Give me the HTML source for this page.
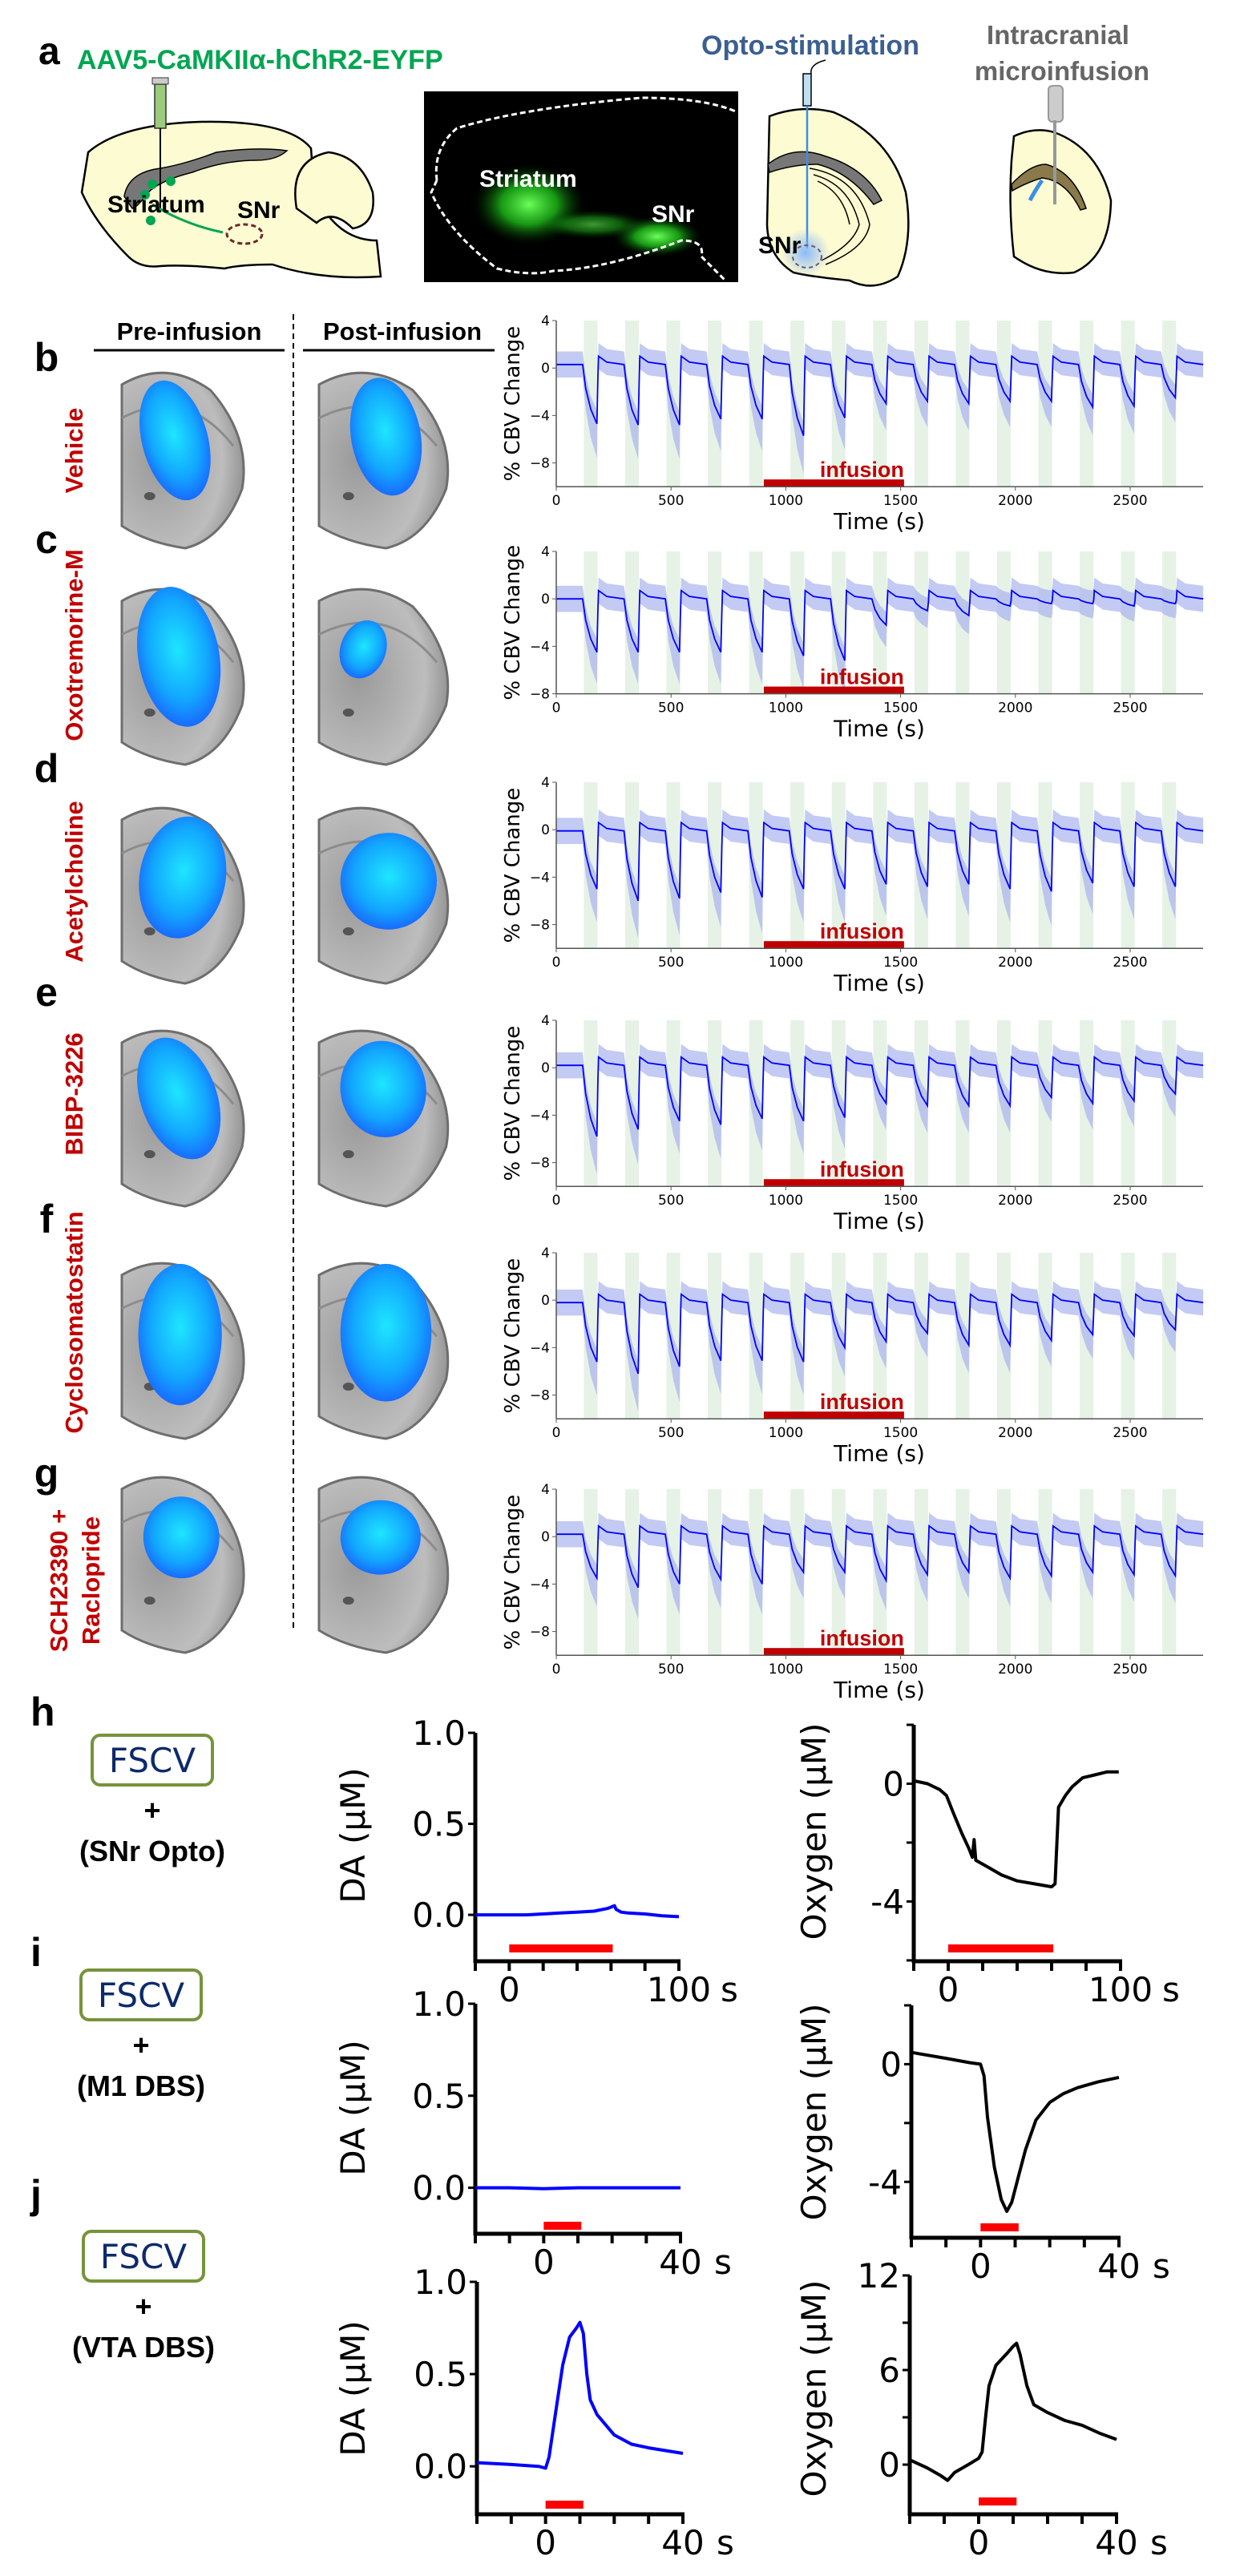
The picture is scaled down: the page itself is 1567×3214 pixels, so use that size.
<!DOCTYPE html>
<html><head><meta charset="utf-8">
<style>
html,body{margin:0;padding:0;background:#fff;}
svg{display:block;}
text{font-family:"DejaVu Sans","Liberation Sans",sans-serif;}
.b{font-family:"Liberation Sans","DejaVu Sans",sans-serif;font-weight:bold;}
</style></head>
<body>
<svg id="fig" xmlns="http://www.w3.org/2000/svg" width="1567" height="3214" viewBox="0 0 1567 3214">
<defs>
  <radialGradient id="glow" cx="50%" cy="50%" r="50%">
    <stop offset="0" stop-color="#6cff5a" stop-opacity="1"/>
    <stop offset="0.5" stop-color="#1fbf1a" stop-opacity="0.8"/>
    <stop offset="1" stop-color="#003300" stop-opacity="0"/>
  </radialGradient>
  <radialGradient id="bluegrad" cx="50%" cy="45%" r="60%">
    <stop offset="0" stop-color="#1ee6ff"/>
    <stop offset="0.6" stop-color="#12a6ff"/>
    <stop offset="1" stop-color="#1a5cff"/>
  </radialGradient>
  <radialGradient id="graybrain" cx="30%" cy="50%" r="75%">
    <stop offset="0" stop-color="#9a9a9a"/>
    <stop offset="0.7" stop-color="#bdbdbd"/>
    <stop offset="1" stop-color="#8a8a8a"/>
  </radialGradient>
  <radialGradient id="optoglow" cx="50%" cy="50%" r="50%">
    <stop offset="0" stop-color="#7fb2ff" stop-opacity="0.9"/>
    <stop offset="1" stop-color="#7fb2ff" stop-opacity="0"/>
  </radialGradient>
</defs>

<!-- Panel a -->
<g>
  <text x="48" y="80" class="b" font-size="48" fill="#000">a</text>
  <text x="96" y="86" class="b" font-size="34" fill="#00a651">AAV5-CaMKIIα-hChR2-EYFP</text>
  <!-- sagittal brain -->
  <g>
    <path d="M110,190 Q150,155 250,152 Q360,150 388,185 L392,240 Q420,300 470,300 L475,345 Q400,350 340,330 Q300,330 280,335 Q230,330 200,332 Q175,335 160,320 Q120,280 102,240 Z" fill="#fdfbd2" stroke="#000" stroke-width="2.5"/>
    <path d="M370,260 Q360,200 410,190 Q450,195 465,240 Q470,280 440,285 Q415,260 395,278 Z" fill="#fdfbd2" stroke="#000" stroke-width="2.5"/>
    <path d="M155,245 Q160,215 200,210 Q230,205 270,190 Q320,183 358,188 Q345,200 320,200 Q280,200 240,215 Q200,225 185,240 Q170,260 165,260 Z" fill="#777" stroke="#000" stroke-width="1.5"/>
    <rect x="193" y="105" width="14" height="55" fill="#9ccb7e" stroke="#333" stroke-width="1.5"/>
    <rect x="190" y="97" width="20" height="8" fill="#ccc" stroke="#333"/>
    <line x1="200" y1="160" x2="200" y2="265" stroke="#000" stroke-width="2"/>
    <circle cx="190" cy="230" r="6" fill="#00a651"/><circle cx="213" cy="226" r="6" fill="#00a651"/>
    <circle cx="181" cy="243" r="6" fill="#00a651"/><circle cx="188" cy="275" r="6" fill="#00a651"/>
    <path d="M190,255 Q230,280 278,290" fill="none" stroke="#00a651" stroke-width="3"/>
    <ellipse cx="305" cy="292" rx="22" ry="12" fill="none" stroke="#6b2a2a" stroke-width="3" stroke-dasharray="6,4"/>
    <text x="134" y="265" class="b" font-size="30" fill="#000">Striatum</text>
    <text x="296" y="272" class="b" font-size="30" fill="#000">SNr</text>
  </g>
  <!-- fluorescence image -->
  <g>
    <rect x="529" y="114" width="392" height="238" fill="#000"/>
    <ellipse cx="660" cy="255" rx="70" ry="50" fill="url(#glow)"/>
    <ellipse cx="820" cy="295" rx="55" ry="25" fill="url(#glow)"/>
    <ellipse cx="740" cy="280" rx="70" ry="18" fill="url(#glow)" opacity="0.6"/>
    <path d="M545,225 Q540,185 570,160 Q650,135 800,122 Q880,122 920,140 M545,225 L538,240 Q560,290 620,335 Q660,345 690,338 Q760,335 850,300 Q880,300 875,320 L905,350" fill="none" stroke="#fff" stroke-width="3" stroke-dasharray="7,4"/>
    <text x="598" y="233" class="b" font-size="30" fill="#fff">Striatum</text>
    <text x="813" y="277" class="b" font-size="30" fill="#fff">SNr</text>
  </g>
  <!-- opto coronal -->
  <g>
    <text x="875" y="68" class="b" font-size="34" fill="#3c5f91">Opto-stimulation</text>
    <path d="M1030,75 Q1010,80 1012,92" fill="none" stroke="#000" stroke-width="1.5"/>
    <path d="M960,145 Q1000,130 1040,140 Q1110,170 1130,240 Q1140,300 1120,345 Q1090,365 1060,350 Q1010,345 990,340 Q958,320 957,280 Z" fill="#fdfbd2" stroke="#000" stroke-width="2.5"/>
    <path d="M958,205 Q990,180 1030,195 Q1080,210 1100,250 L1090,255 Q1060,215 1020,205 Q990,205 960,215 Z" fill="#777" stroke="#000" stroke-width="1.5"/>
    <path d="M1010,210 Q1070,220 1085,280 Q1080,310 1030,330 M1015,218 Q1060,230 1072,280 Q1065,305 1025,325 M1020,226 Q1052,240 1060,280" fill="none" stroke="#000" stroke-width="1.5"/>
    <rect x="1002" y="92" width="10" height="40" fill="#bfe0f0" stroke="#000" stroke-width="1.5"/>
    <line x1="1007" y1="132" x2="1007" y2="310" stroke="#3a8ee6" stroke-width="2.5"/>
    <circle cx="1005" cy="315" r="30" fill="url(#optoglow)"/>
    <ellipse cx="1007" cy="320" rx="18" ry="14" fill="none" stroke="#6b5a6a" stroke-width="2" stroke-dasharray="5,4"/>
    <text x="946" y="316" class="b" font-size="30" fill="#000">SNr</text>
  </g>
  <!-- microinfusion coronal -->
  <g>
    <text x="1320" y="55" class="b" font-size="33" fill="#666" text-anchor="middle">Intracranial</text>
    <text x="1325" y="100" class="b" font-size="33" fill="#666" text-anchor="middle">microinfusion</text>
    <path d="M1265,170 Q1290,158 1315,165 Q1370,185 1386,250 Q1385,320 1340,340 Q1300,345 1265,320 Q1258,260 1262,200 Z" fill="#fdfbd2" stroke="#000" stroke-width="2.5"/>
    <path d="M1262,230 Q1285,205 1305,205 Q1340,215 1355,260 L1348,262 Q1330,225 1300,222 Q1280,228 1263,238 Z" fill="#8a7a4a" stroke="#000" stroke-width="1.5"/>
    <path d="M1300,225 Q1290,240 1285,250" stroke="#3a8ee6" stroke-width="5" fill="none"/>
    <rect x="1308" y="107" width="18" height="45" rx="5" fill="#ccc" stroke="#999" stroke-width="2"/>
    <line x1="1316" y1="150" x2="1316" y2="255" stroke="#999" stroke-width="4"/>
  </g>
</g>

<!-- Column headers -->
<g>
  <text x="236" y="424" class="b" font-size="31" text-anchor="middle">Pre-infusion</text>
  <line x1="117" y1="437" x2="355" y2="437" stroke="#000" stroke-width="3"/>
  <text x="502" y="424" class="b" font-size="31" text-anchor="middle">Post-infusion</text>
  <line x1="378" y1="437" x2="617" y2="437" stroke="#000" stroke-width="3"/>
  <line x1="366" y1="392" x2="366" y2="2035" stroke="#000" stroke-width="2" stroke-dasharray="7,5"/>
</g>

<g id="rows"></g>
<g id="charts"></g>
<g id="fscv"></g>
</svg>

<script>
const NS = "http://www.w3.org/2000/svg";
const svg = document.getElementById('fig');
function mk(tag, attrs, parent, txt){
  const e = document.createElementNS(NS, tag);
  for (const k in attrs) e.setAttribute(k, attrs[k]);
  if (txt !== undefined) e.textContent = txt;
  (parent||svg).appendChild(e);
  return e;
}

// ---------- CBV data ----------
const stimStarts = [120,300,480,660,840,1020,1200,1380,1560,1740,1920,2100,2280,2460,2640];
const stimDuration = 60;
const infusionWindow = [904, 1515];
const xTicks = [0,500,1000,1500,2000,2500];
const yTicksCBV = [4,0,-4,-8];
const panelNames = ["b","c","d","e","f","g"];
const drugNames = ["Vehicle","Oxotremorine-M","Acetylcholine","BIBP-3226","Cyclosomatostatin","SCH23390 + Raclopride"];
const ampB = [-4.7,-4.8,-4.8,-4.3,-4.3,-5.7,-4.2,-3.0,-2.8,-3.0,-2.8,-2.8,-3.3,-3.2,-2.5];
const ampC = [-4.5,-4.5,-4.5,-4.5,-4.5,-4.8,-5.2,-2.2,-1.0,-1.4,-0.6,-0.4,-0.4,-0.6,-0.4];
const ampD = [-5.0,-6.0,-5.8,-5.3,-5.7,-5.0,-5.0,-4.6,-4.8,-4.6,-5.0,-5.2,-4.5,-4.8,-4.8];
const ampE = [-5.8,-5.2,-4.5,-4.8,-4.3,-4.5,-4.2,-3.0,-3.2,-3.2,-3.2,-2.5,-3.0,-2.8,-2.2];
const ampF = [-5.2,-6.2,-5.6,-5.1,-5.1,-5.2,-4.0,-3.5,-2.8,-3.8,-3.8,-3.4,-2.9,-3.0,-2.5];
const ampG = [-3.5,-4.3,-4.0,-3.6,-4.0,-3.0,-3.0,-3.7,-3.2,-3.0,-3.5,-3.3,-3.0,-3.2,-3.3];
const baseCBV = [0.3, 0.0, -0.1, 0.2, -0.2, 0.2];
const amps = [ampB, ampC, ampD, ampE, ampF, ampG];
const yMinCBV = [-10,-8,-10,-10,-10,-10];
const chartTops = [400, 688, 976, 1273, 1563, 1858];

// ---------- Layout ----------
const X0 = 694, PXS = (1410-694)/2500, XEND = 1501;
function sx(t){ return X0 + t*PXS; }

const rowsG = document.getElementById('rows');
const chartsG = document.getElementById('charts');

// Brain slices
const brainTops = [452, 722, 995, 1273, 1563, 1830];
const brainH = 232;
const blobsPre = [[0.42,0.42,0.26,0.33,-15],[0.45,0.42,0.32,0.38,-10],[0.48,0.43,0.34,0.33,10],[0.45,0.42,0.30,0.34,-20],[0.46,0.44,0.33,0.38,0],[0.47,0.38,0.30,0.22,-5]];
const blobsPost= [[0.50,0.40,0.26,0.32,-10],[0.33,0.38,0.17,0.16,20],[0.52,0.45,0.36,0.26,5],[0.48,0.37,0.32,0.26,-10],[0.50,0.43,0.34,0.37,0],[0.46,0.38,0.30,0.20,-5]];
const labelY = [445, 672, 958, 1237, 1520, 1837];
const drugY = [562, 805, 1100, 1365, 1650, 0];

function brain(x, y, w, h, blob, name){
  const g = mk('g', {}, rowsG);
  
  
  const d = `M${x},${y+h*0.12} Q${x+w*0.35},${y-h*0.02} ${x+w*0.7},${y+h*0.15} Q${x+w*1.02},${y+h*0.4} ${x+w*0.95},${y+h*0.68} Q${x+w*0.8},${y+h*0.95} ${x+w*0.5},${y+h} Q${x+w*0.2},${y+h*0.97} ${x},${y+h*0.88} Z`;
  mk('path', {d:d, fill:'url(#graybrain)', stroke:'#6e6e6e', 'stroke-width':3}, g);
  mk('path', {d:`M${x},${y+h*0.3} Q${x+w*0.5},${y+h*0.12} ${x+w*0.88},${y+h*0.45}`, fill:'none', stroke:'#8c8c8c', 'stroke-width':3}, g);
  mk('ellipse', {cx:x+w*0.22, cy:y+h*0.72, rx:7, ry:5, fill:'#555'}, g);
  const cx = x+blob[0]*w, cy = y+blob[1]*h;
  mk('ellipse', {cx:cx, cy:cy, rx:blob[2]*w, ry:blob[3]*h, transform:`rotate(${blob[4]} ${cx} ${cy})`, fill:'url(#bluegrad)'}, g);
}

for (let i=0;i<6;i++){
  brain(152, brainTops[i], 158, brainH, blobsPre[i], 'brain-pre-'+panelNames[i]);
  brain(398, brainTops[i], 167, brainH, blobsPost[i], 'brain-post-'+panelNames[i]);
  const lab = mk('text', {x:58, y:labelY[i]+18, 'font-size':50, 'text-anchor':'middle', class:'b'}, rowsG, panelNames[i]);
  
  
  if (i<5){
    const t = mk('text', {x:0, y:0, 'font-size':31, fill:'#c00000', class:'b', 'text-anchor':'middle', transform:`translate(103 ${drugY[i]}) rotate(-90)`}, rowsG, drugNames[i]);
    
    
  }
}
{
  const t1 = mk('text', {'font-size':31, fill:'#c00000', class:'b', 'text-anchor':'middle', transform:'translate(84 1972) rotate(-90)'}, rowsG, 'SCH23390 +');
  
  
  const t2 = mk('text', {'font-size':31, fill:'#c00000', class:'b', 'text-anchor':'middle', transform:'translate(124 1972) rotate(-90)'}, rowsG, 'Raclopride');
  
  
}

// CBV charts
function cbvSeries(amp, base){
  const pts = [[0, base]];
  for (let k=0;k<stimStarts.length;k++){
    const t0 = stimStarts[k], a = amp[k];
    pts.push([t0-5, base], [t0+8, base+(a-base)*0.4], [t0+30, base+(a-base)*0.75], [t0+57, a], [t0+61, base+(a-base)*0.3], [t0+64, base+0.7], [t0+100, base+0.2]);
  }
  pts.push([2818, base]);
  return pts;
}
for (let i=0;i<6;i++){
  const top = chartTops[i], ymin = yMinCBV[i];
  const bottom = top + (4-ymin)*14.8;
  const sy = v => top + (4-v)*(bottom-top)/(4-ymin);
  const g = mk('g', {}, chartsG);
  
  
  // stim bars
  stimStarts.forEach((s, k)=>{
    const r = mk('rect', {x:sx(s), y:top, width:stimDuration*PXS, height:bottom-top, fill:'#e6f2e6'}, g);
    
    
  });
  const pts = cbvSeries(amps[i], baseCBV[i]);
  // band
  const up = pts.map(p=>[p[0], p[1]+1.1]);
  const lo = pts.map(p=>[p[0], p[1]-1.1-Math.max(0, (baseCBV[i]-p[1]))*0.35]);
  let bd = 'M' + up.map(p=>sx(p[0]).toFixed(1)+','+Math.max(top,sy(p[1])).toFixed(1)).join(' L');
  bd += ' L' + lo.reverse().map(p=>sx(p[0]).toFixed(1)+','+Math.min(bottom,sy(p[1])).toFixed(1)).join(' L') + ' Z';
  const band = mk('path', {d:bd, fill:'#aab3ee', opacity:0.7}, g);
  
  
  const ln = mk('path', {d:'M'+pts.map(p=>sx(p[0]).toFixed(1)+','+sy(p[1]).toFixed(1)).join(' L'), fill:'none', stroke:'#0000ff', 'stroke-width':1.8}, g);
  
  
  // infusion bar
  const ib = mk('rect', {x:sx(infusionWindow[0]), y:bottom-9, width:(infusionWindow[1]-infusionWindow[0])*PXS, height:9, fill:'#c00000'}, g);
  
  
  const it = mk('text', {x:sx(infusionWindow[1]), y:bottom-12, 'font-size':27, fill:'#c00000', 'text-anchor':'end', class:'b'}, g, 'infusion');
  
  
  // axes
  mk('line', {x1:X0, y1:top, x2:X0, y2:bottom, stroke:'#555', 'stroke-width':1.5}, g);
  mk('line', {x1:X0, y1:bottom, x2:XEND, y2:bottom, stroke:'#555', 'stroke-width':1.5}, g);
  yTicksCBV.forEach(v=>{
    if (v<ymin) return;
    mk('line', {x1:X0-5, y1:sy(v), x2:X0, y2:sy(v), stroke:'#555'}, g);
    const tl = mk('text', {x:X0-8, y:sy(v)+6, 'font-size':17, 'text-anchor':'end'}, g, v<0 ? '\u2212'+(-v) : String(v));
    
    
  });
  xTicks.forEach(v=>{
    mk('line', {x1:sx(v), y1:bottom, x2:sx(v), y2:bottom+5, stroke:'#555'}, g);
    const tl = mk('text', {x:sx(v), y:bottom+23, 'font-size':17, 'text-anchor':'middle'}, g, String(v));
    
    
  });
  const xt = mk('text', {x:1097, y:bottom+53, 'font-size':28, 'text-anchor':'middle'}, g, 'Time (s)');
  
  
  const yt = mk('text', {'font-size':26, 'text-anchor':'middle', transform:`translate(648 ${(top+bottom)/2}) rotate(-90)`}, g, '% CBV Change');
  
  
}

// ---------- FSCV data ----------
const daH_t = [-20,-10,0,10,20,30,40,50,58,62,63,66,70,80,90,100];
const daH_v = [0.0,0.0,0.0,0.0,0.005,0.01,0.015,0.02,0.035,0.05,0.03,0.015,0.01,0.005,-0.005,-0.01];
const oxH_t = [-20,-12,-5,-1,3,8,12,14,15,16,22,31,40,50,60,62,64,68,72,78,85,92,99];
const oxH_v = [0.1,0.0,-0.2,-0.4,-1.0,-1.7,-2.2,-2.5,-1.9,-2.6,-2.8,-3.1,-3.3,-3.4,-3.5,-3.4,-0.8,-0.4,-0.1,0.2,0.3,0.4,0.4];
const daI_t = [-20,-10,0,10,20,30,40];
const daI_v = [0.0,0.0,-0.005,0.0,0.0,0.0,0.0];
const oxI_t = [-20,-10,-3,0,1,2,4,6,7.6,9,11,13,16,20,24,28,34,40];
const oxI_v = [0.4,0.2,0.05,0.0,-0.4,-1.8,-3.5,-4.6,-5.0,-4.7,-3.8,-2.9,-1.9,-1.3,-1.0,-0.8,-0.6,-0.45];
const daJ_t = [-20,-10,-2,0,1,3,5,7,9,10,11,12,13,15,20,25,30,40];
const daJ_v = [0.02,0.01,0.0,-0.01,0.05,0.3,0.55,0.7,0.75,0.78,0.72,0.5,0.36,0.28,0.17,0.12,0.1,0.07];
const oxJ_t = [-20,-15,-11,-9,-7,-3,0,1,2,3,5,8,10,11,12,14,16,20,25,30,35,40];
const oxJ_v = [0.3,-0.2,-0.7,-1.0,-0.5,0.0,0.4,0.8,3.0,5.0,6.3,7.0,7.5,7.7,7.0,5.0,3.8,3.3,2.8,2.5,2.0,1.6];
const daTicks = [1.0, 0.5, 0.0];
const oxTicksHI = [0, -4];
const oxTicksJ = [12, 6, 0];
const stimH = [0, 61];
const stimI = [0, 11];
const stimJ = [0, 11];

const fG = document.getElementById('fscv');
function fscvChart(o){
  const g = mk('g', {}, fG);
  
  
  const fx = t => o.ax + (t - o.tmin)*(o.axEnd-o.ax)/(o.tmax-o.tmin);
  const fy = v => o.top + (o.vmax - v)*(o.bottom-o.top)/(o.vmax-o.vmin);
  // axes
  mk('line', {x1:o.ax, y1:o.top, x2:o.ax, y2:o.bottom+2, stroke:'#000', 'stroke-width':5}, g);
  mk('line', {x1:o.ax-2, y1:o.bottom, x2:o.axEnd+2, y2:o.bottom, stroke:'#000', 'stroke-width':5}, g);
  for (let t=o.tmin; t<=o.tmax+0.01; t+=o.tstep){
    mk('line', {x1:fx(t), y1:o.bottom, x2:fx(t), y2:o.bottom+12, stroke:'#000', 'stroke-width':4}, g);
  }
  o.minor.forEach(v=>{ mk('line', {x1:o.ax-9, y1:fy(v), x2:o.ax, y2:fy(v), stroke:'#000', 'stroke-width':3}, g); });
  o.yticks.forEach(v=>{
    mk('line', {x1:o.ax-9, y1:fy(v), x2:o.ax, y2:fy(v), stroke:'#000', 'stroke-width':3}, g);
    const tl = mk('text', {x:o.ax-12, y:fy(v)+15, 'font-size':42, 'text-anchor':'end'}, g, o.fmt(v));
    
    
  });
  o.xlabels.forEach(v=>{
    const tl = mk('text', {x:fx(v), y:o.bottom+50, 'font-size':42, 'text-anchor':'middle'}, g, String(v));
    
    
  });
  const st = mk('text', {x:fx(o.xlabels[o.xlabels.length-1]) + (o.tmax>50?52:42), y:o.bottom+50, 'font-size':42}, g, 's');
  
  
  const yt = mk('text', {'font-size':42, 'text-anchor':'middle', transform:`translate(${o.ylx} ${o.yly}) rotate(-90)`}, g, o.ylabel);
  
  
  const sb = mk('rect', {x:fx(o.stim[0]), y:o.stimY, width:fx(o.stim[1])-fx(o.stim[0]), height:10, fill:'#ff0000'}, g);
  
  
  const ln = mk('path', {d:'M'+o.t.map((t,k)=>fx(t).toFixed(1)+','+fy(o.v[k]).toFixed(1)).join(' L'), fill:'none', stroke:o.color, 'stroke-width':4, 'stroke-linejoin':'round'}, g);
  
  
}
const f1 = v => v.toFixed(1);
const f0 = v => String(v);
// h
fscvChart({name:'da-chart-h', ax:593, axEnd:847, tmin:-20, tmax:100, tstep:20, top:2162, bottom:2447, vmax:1.0, vmin:-0.255, yticks:daTicks, minor:[], fmt:f1, xlabels:[0,100], ylabel:'DA (\u03bcM)', ylx:455, yly:2290, stim:stimH, stimY:2426, t:daH_t, v:daH_v, color:'#0000ff'});
fscvChart({name:'oxygen-chart-h', ax:1140, axEnd:1398, tmin:-20, tmax:100, tstep:20, top:2152, bottom:2447, vmax:2, vmin:-6.03, yticks:oxTicksHI, minor:[2,-2,-6], fmt:f0, xlabels:[0,100], ylabel:'Oxygen (\u03bcM)', ylx:1030, yly:2285, stim:stimH, stimY:2426, t:oxH_t, v:oxH_v, color:'#000'});
// i
fscvChart({name:'da-chart-i', ax:593, axEnd:849, tmin:-20, tmax:40, tstep:10, top:2500, bottom:2787, vmax:1.0, vmin:-0.25, yticks:daTicks, minor:[], fmt:f1, xlabels:[0,40], ylabel:'DA (\u03bcM)', ylx:455, yly:2630, stim:stimI, stimY:2772, t:daI_t, v:daI_v, color:'#0000ff'});
fscvChart({name:'oxygen-chart-i', ax:1137, axEnd:1396, tmin:-20, tmax:40, tstep:10, top:2502, bottom:2792, vmax:2, vmin:-5.9, yticks:oxTicksHI, minor:[2,-2], fmt:f0, xlabels:[0,40], ylabel:'Oxygen (\u03bcM)', ylx:1030, yly:2635, stim:stimI, stimY:2774, t:oxI_t, v:oxI_v, color:'#000'});
// j
fscvChart({name:'da-chart-j', ax:595, axEnd:852, tmin:-20, tmax:40, tstep:10, top:2847, bottom:3137, vmax:1.0, vmin:-0.26, yticks:daTicks, minor:[], fmt:f1, xlabels:[0,40], ylabel:'DA (\u03bcM)', ylx:455, yly:2980, stim:stimJ, stimY:3120, t:daJ_t, v:daJ_v, color:'#0000ff'});
fscvChart({name:'oxygen-chart-j', ax:1135, axEnd:1393, tmin:-20, tmax:40, tstep:10, top:2839, bottom:3137, vmax:12, vmin:-3.15, yticks:oxTicksJ, minor:[9,3], fmt:f0, xlabels:[0,40], ylabel:'Oxygen (\u03bcM)', ylx:1030, yly:2980, stim:stimJ, stimY:3116, t:oxJ_t, v:oxJ_v, color:'#000'});

// FSCV condition boxes
const condLabels = ['(SNr Opto)','(M1 DBS)','(VTA DBS)'];
const condLetters = ['h','i','j'];
const boxY = [2165, 2458, 2784];
const boxX = [115, 101, 104];
const letterY = [2135, 2435, 2737];
for (let k=0;k<3;k++){
  const g = mk('g', {}, fG);
  
  
  const lt = mk('text', {x:38, y:letterY[k]+18, 'font-size':50, class:'b'}, g, condLetters[k]);
  
  
  mk('rect', {x:boxX[k], y:boxY[k], width:150, height:62, rx:10, fill:'#fff', stroke:'#77933c', 'stroke-width':4}, g);
  const ft = mk('text', {x:boxX[k]+75, y:boxY[k]+46, 'font-size':42, fill:'#0d2a6b', 'text-anchor':'middle', 'font-family':'Liberation Sans Narrow, Liberation Sans, sans-serif'}, g, 'FSCV');
  
  
  const cx = boxX[k]+75;
  mk('text', {x:cx, y:boxY[k]+106, 'font-size':36, 'text-anchor':'middle', class:'b'}, g, '+');
  const cl = mk('text', {x:cx, y:boxY[k]+157, 'font-size':36, 'text-anchor':'middle', class:'b'}, g, condLabels[k]);
  
  
}
</script>
</body></html>
